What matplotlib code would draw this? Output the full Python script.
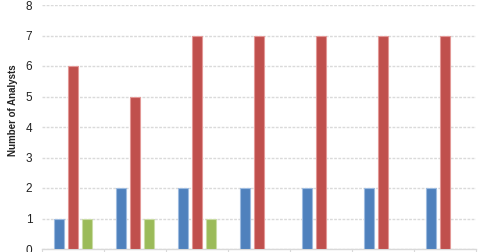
import numpy as np
import matplotlib
matplotlib.use("Agg")
import matplotlib.pyplot as plt

plt.rcParams['font.family'] = ['Liberation Sans', 'DejaVu Sans']

# analyst counts per period (three rating groups)
groups = ["P1", "P2", "P3", "P4", "P5", "P6", "P7"]
blue_vals = [1, 2, 2, 2, 2, 2, 2]
red_vals = [6, 5, 7, 7, 7, 7, 7]
green_vals = [1, 1, 1, 0, 0, 0, 0]
y_ticks = [0, 1, 2, 3, 4, 5, 6, 7, 8]

fig = plt.figure(figsize=(4.8, 2.52), dpi=100)
ax = fig.add_axes([42 / 480, 3 / 252, 434 / 480, 244 / 252])

x = np.arange(len(groups))
w = 0.16
off = 0.226
series = [
    (blue_vals, -off, "#4F81BD", "#9dbbe0"),
    (red_vals, 0.0, "#C0504D", "#e39896"),
    (green_vals, off, "#9BBB59", "#c9dca4"),
]
for vals, dx, fc, ec in series:
    v = np.array(vals, dtype=float)
    mask = v > 0
    ax.bar(x[mask] + dx, v[mask], width=w, color=fc, edgecolor=ec,
           linewidth=0.8, zorder=3)

ax.set_xlim(-0.5, len(groups) - 0.5)
ax.set_ylim(0, 8)
ax.set_yticks(y_ticks)
ax.set_yticklabels([str(t) for t in y_ticks], fontsize=8.5, color="#222222")
ax.tick_params(axis="y", length=0, pad=7)
ax.set_xticks(np.arange(-0.5, len(groups), 1.0))
ax.set_xticklabels([])
ax.tick_params(axis="x", length=4, color="#d9d9d9", direction="out")

ax.grid(axis="y", color="#dadada", linestyle=(0, (2, 1)), linewidth=1.0, zorder=0)
for s in ["top", "right", "left"]:
    ax.spines[s].set_visible(False)
ax.spines["bottom"].set_color("#d9d9d9")
ax.spines["bottom"].set_linewidth(1.0)

fig.text(13.5 / 480, 1 - 110 / 252, "Number of Analysts", rotation=90,
         fontsize=7, fontweight="bold", color="#222222",
         ha="center", va="center")

fig.savefig("out.png", dpi=100)
